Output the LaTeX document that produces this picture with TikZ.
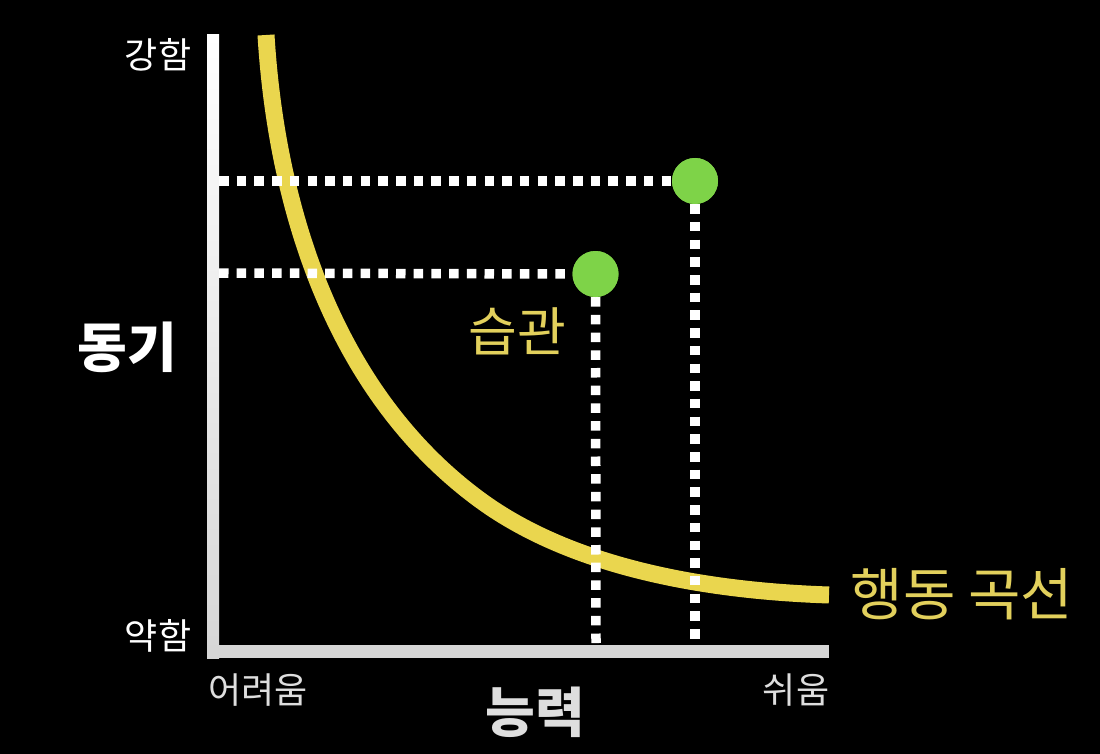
\documentclass[tikz,border=0pt]{standalone}
\usepackage{fontspec}
\setmainfont{Noto Sans CJK KR}
\definecolor{curveyellow}{RGB}{234,214,78}
\definecolor{textyellow}{RGB}{226,208,92}
\definecolor{dotgreen}{RGB}{126,211,72}
\definecolor{axisgray}{RGB}{214,214,214}
\definecolor{labelgray}{RGB}{222,222,222}
\tikzset{
  axislabel/.style={text=white,font=\fontsize{36}{40}\selectfont,inner sep=0pt},
  ticklabel/.style={text=labelgray,font=\fontsize{36}{40}\selectfont,inner sep=0pt},
  bigtitle/.style={text=white,font=\fontsize{54}{60}\selectfont\bfseries,inner sep=0pt},
  yellowlabel/.style={text=textyellow,font=\fontsize{53}{58}\selectfont,inner sep=0pt},
  dotline/.style={white,line width=9.5pt,dash pattern=on 9.5pt off 8.2pt},
  greendot/.style={circle,fill=dotgreen,minimum size=46pt,inner sep=0pt},
}
\begin{document}
\begin{tikzpicture}[x=1pt,y=-1pt]
\fill[black] (0,0) rectangle (1100,754);
\useasboundingbox (0,0) rectangle (1100,754);
% axes
\shade[top color=white,bottom color=axisgray] (207,35) rectangle (219,658);
\fill[axisgray] (207,645) rectangle (829,658);
% curve
\coordinate (cstart) at (266,35);
\coordinate (cmid) at (480,500);
\coordinate (cend) at (829,595);
\draw[curveyellow,line width=17pt,line cap=butt] (cstart) .. controls (276,200) and (330,390) .. (cmid) .. controls (560,558.7) and (680,590) .. (cend);
% dots
\node[greendot] (hi) at (695,181) {};
\node[greendot] (habit) at (595.5,274) {};
\coordinate (yhi) at (219,181);
\coordinate (ylo) at (219,273);
\coordinate (xhi) at (695,644);
\coordinate (xlo) at (596,644);
\draw[dotline] (yhi) -- (hi.west);
\draw[dotline] (hi.south) -- (xhi);
\draw[dotline] (ylo) -- (habit.west);
\draw[dotline] (habit.south) -- (xlo);
\node[greendot] at (hi) {};
\node[greendot] at (habit) {};
% labels
\node[axislabel] (strong) at (158,55) {강함};
\node[axislabel] (weak) at (158,636) {약함};
\node[bigtitle] (motive) at (127,347) {동기};
\node[bigtitle,text=labelgray] (ability) at (535,712) {능력};
\node[ticklabel] (hard) at (258,690) {어려움};
\node[ticklabel] (easy) at (796,690) {쉬움};
\node[yellowlabel] (habitlabel) at (517,331) {습관};
\node[yellowlabel,font=\fontsize{57}{62}\selectfont] (curvelabel) at (962,594) {행동 곡선};
\end{tikzpicture}
\end{document}
